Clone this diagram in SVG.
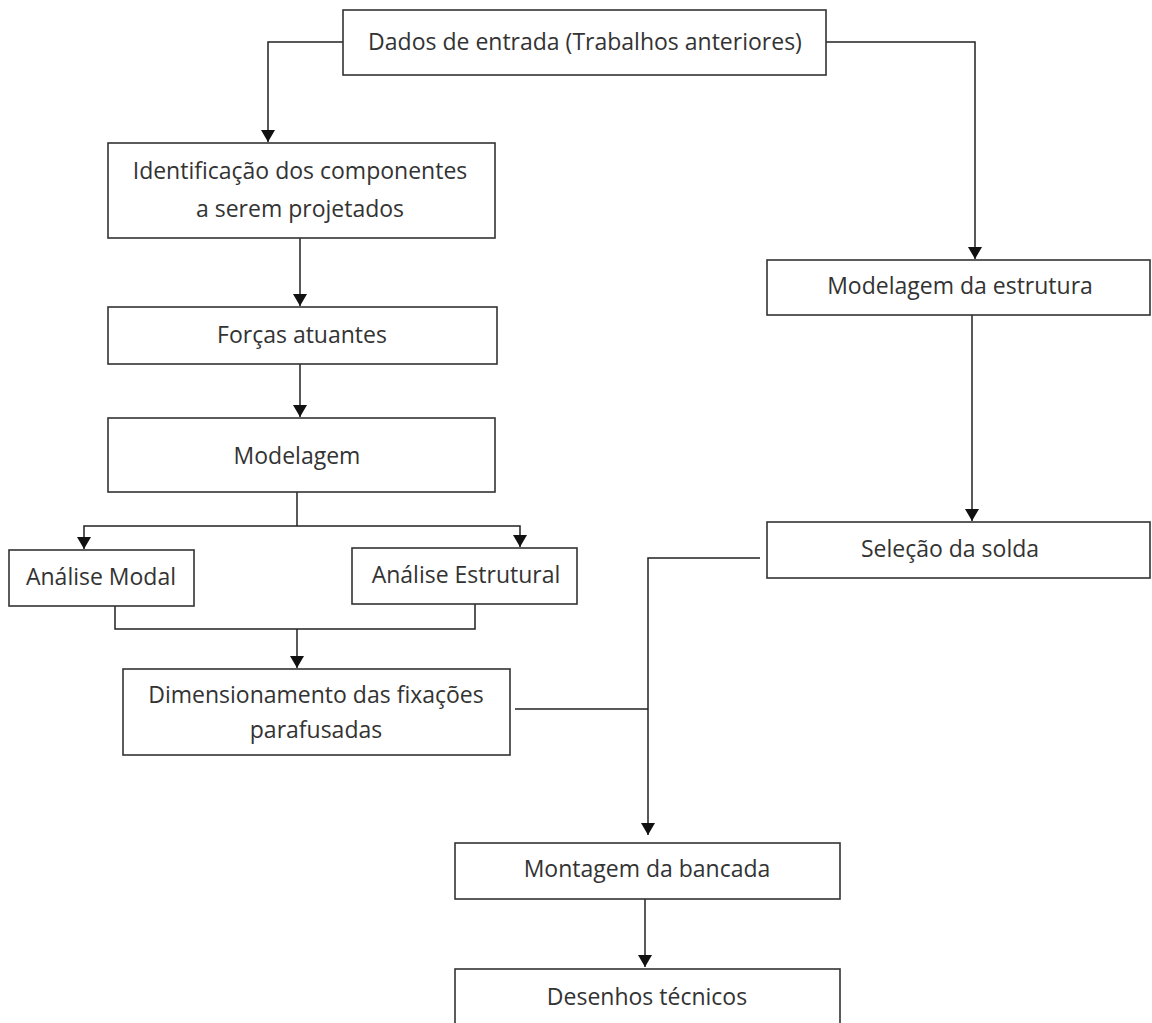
<svg xmlns="http://www.w3.org/2000/svg" width="1152" height="1023" viewBox="0 0 1152 1023">
<style>
.box{fill:#fff;stroke:#333;stroke-width:1.6}
.t{font-family:"Open Sans","Noto Sans",sans-serif;font-size:23px;fill:#333;text-anchor:middle;dominant-baseline:central}
.c{fill:none;stroke:#222;stroke-width:1.5}
</style>
<defs>
<marker id="ah" viewBox="0 0 12 14" refX="12" refY="7" markerWidth="12" markerHeight="14" markerUnits="userSpaceOnUse" orient="auto">
<path d="M0,0 L12,7 L0,14 z" fill="#111"/>
</marker>
</defs>
<rect width="1152" height="1023" fill="#fff"/>
<g id="connectors">
<path class="c" d="M343,42 H268 V142" marker-end="url(#ah)"/>
<path class="c" d="M826,42 H975 V259" marker-end="url(#ah)"/>
<path class="c" d="M300,238 V306" marker-end="url(#ah)"/>
<path class="c" d="M300,364 V417" marker-end="url(#ah)"/>
<path class="c" d="M297,492 V526"/>
<path class="c" d="M297,526 H84 V549" marker-end="url(#ah)"/>
<path class="c" d="M297,526 H520 V547" marker-end="url(#ah)"/>
<path class="c" d="M115,606 V629 H475 V604"/>
<path class="c" d="M297,629 V668" marker-end="url(#ah)"/>
<path class="c" d="M972,315 V521" marker-end="url(#ah)"/>
<path class="c" d="M760,558 H648 V835" marker-end="url(#ah)"/>
<path class="c" d="M515,709 H648"/>
<path class="c" d="M645,899 V967" marker-end="url(#ah)"/>
</g>
<g id="n1"><rect class="box" x="343" y="10" width="483" height="65"/><text class="t" x="585" y="41">Dados de entrada (Trabalhos anteriores)</text></g>
<g id="n2"><rect class="box" x="108" y="143" width="387" height="95"/><text class="t" x="300" y="170">Identificação dos componentes</text><text class="t" x="300" y="208">a serem projetados</text></g>
<g id="n3"><rect class="box" x="108" y="307" width="389" height="57"/><text class="t" x="302" y="334">Forças atuantes</text></g>
<g id="n4"><rect class="box" x="108" y="418" width="387" height="74"/><text class="t" x="297" y="455">Modelagem</text></g>
<g id="n5"><rect class="box" x="9" y="550" width="185" height="56"/><text class="t" x="101" y="576">Análise Modal</text></g>
<g id="n6"><rect class="box" x="352" y="548" width="225" height="56"/><text class="t" x="466" y="574">Análise Estrutural</text></g>
<g id="n7"><rect class="box" x="123" y="669" width="387" height="86"/><text class="t" x="316" y="694">Dimensionamento das fixações</text><text class="t" x="316" y="729">parafusadas</text></g>
<g id="n8"><rect class="box" x="767" y="260" width="383" height="55"/><text class="t" x="960" y="285">Modelagem da estrutura</text></g>
<g id="n9"><rect class="box" x="767" y="522" width="383" height="56"/><text class="t" x="950" y="548">Seleção da solda</text></g>
<g id="n10"><rect class="box" x="455" y="843" width="385" height="56"/><text class="t" x="647" y="868">Montagem da bancada</text></g>
<g id="n11"><rect class="box" x="455" y="969" width="385" height="70"/><text class="t" x="647" y="996">Desenhos técnicos</text></g>
</svg>
